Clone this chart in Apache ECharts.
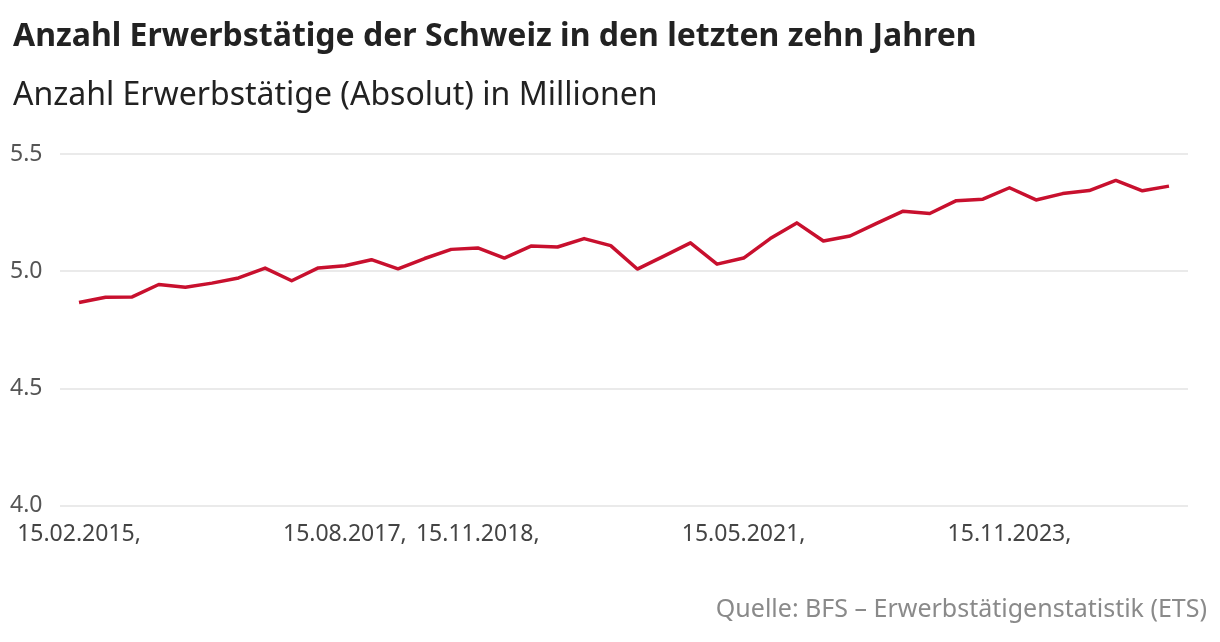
<!DOCTYPE html>
<html>
<head>
<meta charset="utf-8">
<script src="https://cdn.jsdelivr.net/npm/echarts@6/dist/echarts.min.js"></script>
<style>
  html, body { margin: 0; padding: 0; background: #fff; }
  #chart { width: 1220px; height: 642px; }
</style>
</head>
<body>
<div id="chart"></div>
<script>
// Quartale Q1 2015 bis Q2 2025 (Stichtag jeweils 15. des mittleren Monats)
const quarters = [
  '15.02.2015', '15.05.2015', '15.08.2015', '15.11.2015',
  '15.02.2016', '15.05.2016', '15.08.2016', '15.11.2016',
  '15.02.2017', '15.05.2017', '15.08.2017', '15.11.2017',
  '15.02.2018', '15.05.2018', '15.08.2018', '15.11.2018',
  '15.02.2019', '15.05.2019', '15.08.2019', '15.11.2019',
  '15.02.2020', '15.05.2020', '15.08.2020', '15.11.2020',
  '15.02.2021', '15.05.2021', '15.08.2021', '15.11.2021',
  '15.02.2022', '15.05.2022', '15.08.2022', '15.11.2022',
  '15.02.2023', '15.05.2023', '15.08.2023', '15.11.2023',
  '15.02.2024', '15.05.2024', '15.08.2024', '15.11.2024',
  '15.02.2025', '15.05.2025'
];
// Erwerbstätige in Millionen
const erwerbstaetige = [
  4.866, 4.889, 4.890, 4.943, 4.931, 4.949, 4.971, 5.013,
  4.959, 5.014, 5.023, 5.049, 5.010, 5.054, 5.093, 5.099,
  5.056, 5.107, 5.103, 5.139, 5.109, 5.009, 5.064, 5.121,
  5.030, 5.056, 5.139, 5.206, 5.129, 5.150, 5.204, 5.256,
  5.246, 5.301, 5.307, 5.356, 5.304, 5.331, 5.344, 5.387,
  5.343, 5.363
];
// Beschriftete Quartale (Index in quarters)
const labelledIdx = [0, 10, 15, 25, 35];
const yTicks = [4.0, 4.5, 5.0, 5.5];

const font = 'Noto Sans';
const chart = echarts.init(document.getElementById('chart'));
chart.setOption({
  animation: false,
  title: [
    {
      text: 'Anzahl Erwerbstätige der Schweiz in den letzten zehn Jahren',
      left: 8, top: 16,
      textStyle: { fontFamily: font, fontSize: 32, fontWeight: 'bold', color: '#222' }
    },
    {
      text: 'Anzahl Erwerbstätige (Absolut) in Millionen',
      left: 8, top: 75,
      textStyle: { fontFamily: font, fontSize: 32, fontWeight: 'normal', color: '#222' }
    },
    {
      text: 'Quelle: BFS – Erwerbstätigenstatistik (ETS)',
      right: 8, top: 592,
      textStyle: { fontFamily: font, fontSize: 25, fontWeight: 'normal', color: '#8a8a8a' }
    }
  ],
  grid: { left: 60, right: 32, top: 154, bottom: 136.5 },
  xAxis: {
    type: 'value',
    min: -0.715,
    max: 41.715,
    axisLine: { show: false },
    axisTick: { show: false },
    splitLine: { show: false },
    axisLabel: {
      customValues: labelledIdx,
      formatter: v => quarters[Math.round(v)] + ',',
      margin: 17,
      fontFamily: font, fontSize: 23, color: '#444'
    }
  },
  yAxis: {
    type: 'value',
    min: 4.0, max: 5.5, interval: 0.5,
    axisLine: { show: false },
    axisTick: { show: false },
    splitLine: { lineStyle: { color: '#e3e3e3', width: 1.5 } },
    axisLabel: {
      customValues: yTicks,
      formatter: v => v.toFixed(1),
      align: 'left',
      margin: 50,
      fontFamily: font, fontSize: 23, color: '#555'
    }
  },
  series: [{
    type: 'line',
    data: erwerbstaetige.map((v, i) => [i, v]),
    showSymbol: false,
    lineStyle: { color: '#c8102e', width: 3.5, join: 'round' },
    itemStyle: { color: '#c8102e' }
  }]
});
</script>
</body>
</html>
